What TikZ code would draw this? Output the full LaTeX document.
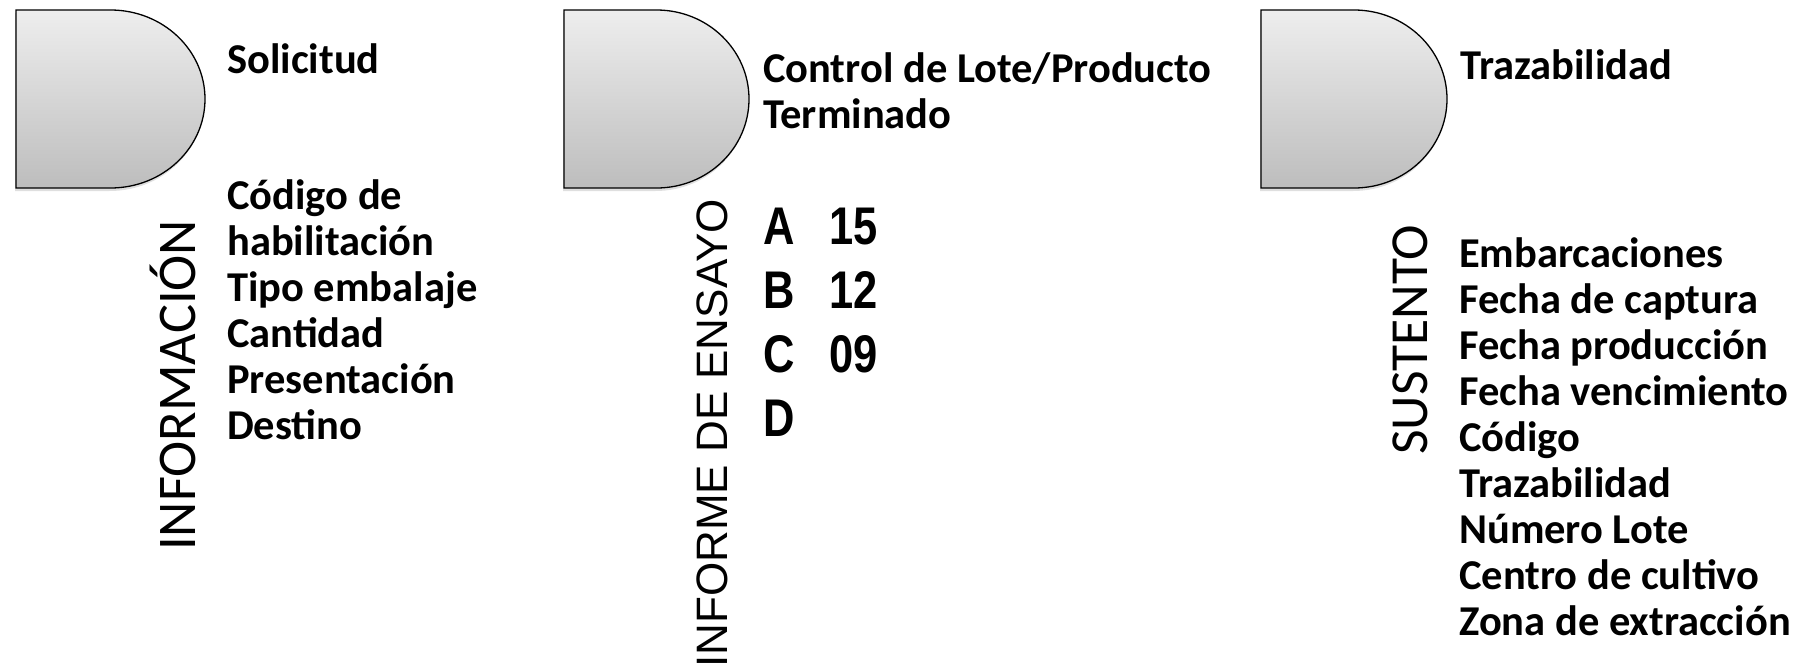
\documentclass[tikz,border=0pt]{standalone}
\usepackage{fontspec}
\setmainfont{Carlito}
\newfontfamily\narrowfont{Liberation Sans}[FakeStretch=0.82]
\newfontfamily\arialfont{Liberation Sans}
\usetikzlibrary{positioning, shadows}
\definecolor{shadetop}{HTML}{EEEEEE}
\definecolor{shadebot}{HTML}{BDBDBD}
\tikzset{
	delayshape/.style={draw=black, line width=1.3pt, top color=shadetop, bottom color=shadebot,
		drop shadow={shadow xshift=-1pt, shadow yshift=-3pt, opacity=0.25}},
	heading/.style={anchor=base west, inner sep=0pt, font=\fontsize{42.5}{46}\selectfont\bfseries},
	items/.style={anchor=base west, inner sep=0pt, font=\fontsize{42.5}{46}\selectfont\bfseries}
}

\begin{document}
\begin{tikzpicture}[
		x=1pt, y=-1pt,
		sidelabel/.style={rotate=90, anchor=base west, inner sep=0pt, font=\fontsize{54.5}{54}\selectfont},
		results/.style={anchor=base west, inner sep=0pt, font=\narrowfont\fontsize{53}{64}\selectfont\bfseries}
		]
		\useasboundingbox (0,0) rectangle (1805,670);
		
		% --- Delay shapes at the top ---
		\path[delayshape] (16,10) -- (110.5,10) arc[start angle=-90, end angle=90, x radius=94.5, y radius=89] -- (16,188) -- cycle;
		\path[delayshape] (564,10) -- (656.5,10) arc[start angle=-90, end angle=90, x radius=92.5, y radius=89] -- (564,188) -- cycle;
		\path[delayshape] (1261,10) -- (1354,10) arc[start angle=-90, end angle=90, x radius=93, y radius=89] -- (1261,188) -- cycle;
		
		% --- Headings beside the shapes ---
		\node[heading] (solicitud) at (227,73) {Solicitud};
		\node[heading] (control) at (763,82) {\begin{tabular}[t]{@{}l@{}}Control de Lote/Producto\\Terminado\end{tabular}};
		\node[heading] (trazabilidad) at (1460,79) {Trazabilidad};
		
		% --- Vertical labels ---
		\node[sidelabel] (informacion) at (195,551) {INFORMACIÓN};
		\node[sidelabel, font=\arialfont\fontsize{44}{44}\selectfont] (informe) at (727,668) {INFORME DE ENSAYO};
		\node[sidelabel, font=\fontsize{53.5}{54}\selectfont] (sustento) at (1427,455) {SUSTENTO};
		
		% --- Lists ---
		\node[items] (datos_info) at (227,209) {\begin{tabular}[t]{@{}l@{}}Código de\\habilitación\\Tipo embalaje\\Cantidad\\Presentación\\Destino\end{tabular}};
		\node[results] (datos_ensayo) at (763,244) {\begin{tabular}[t]{@{}l@{}}\makebox[66pt][l]{A}15\\\makebox[66pt][l]{B}12\\\makebox[66pt][l]{C}09\\D\end{tabular}};
		\node[items] (datos_sustento) at (1459,267) {\begin{tabular}[t]{@{}l@{}}Embarcaciones\\Fecha de captura\\Fecha producción\\Fecha vencimiento\\Código\\Trazabilidad\\Número Lote\\Centro de cultivo\\Zona de extracción\end{tabular}};
		
	\end{tikzpicture}
\end{document}
